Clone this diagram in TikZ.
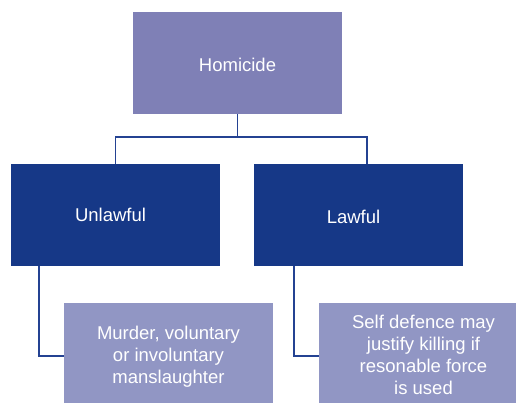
\documentclass[tikz,border=0pt]{standalone}
\usepackage{fontspec}
\setmainfont{Liberation Sans}
\definecolor{topfill}{RGB}{127,128,182}
\definecolor{midfill}{RGB}{22,56,135}
\definecolor{lowfill}{RGB}{145,150,196}
\definecolor{linkcol}{RGB}{36,66,146}
\begin{document}
\begin{tikzpicture}[x=1pt,y=-1pt,
  box/.style={rectangle, inner sep=0pt, minimum width=209pt, minimum height=102pt},
  caption/.style={text=white, align=center, inner sep=0pt, font=\fontsize{18.5}{22}\selectfont},
  link/.style={draw=linkcol, line width=1.6pt}]
\useasboundingbox (0,0) rectangle (516,403);
\clip (0,0) rectangle (516,403);
% tree of boxes
\node[box, fill=topfill,
  label={[caption, yshift=-2pt]center:Homicide}] (hom) at (237.5,63) {};
\node[box, fill=midfill,
  label={[caption, xshift=-5pt]center:Unlawful}] (unl) at (115.5,215) {};
\node[box, fill=midfill,
  label={[caption, xshift=-5pt, yshift=-2pt]center:Lawful}] (law) at (358.5,215) {};
\node[box, fill=lowfill,
  label={[caption, yshift=-3pt]center:Murder, voluntary\\or involuntary\\manslaughter}] (ex1) at (168.5,354) {};
\node[box, fill=lowfill,
  label={[caption, yshift=-1pt]center:Self defence may\\justify killing if\\resonable force\\is used}] (ex2) at (423.5,354) {};
% connectors
\coordinate (lawtop) at ([xshift=8.5pt]law.north);
\coordinate (unlfoot) at ([xshift=28pt]unl.south west);
\coordinate (lawfoot) at ([xshift=40pt]law.south west);
\draw[link] (hom.south) -- ++(0,23) coordinate (fork);
\draw[link] (unl.north) |- (fork) -| (lawtop);
\draw[link] (unlfoot) |- ([yshift=-2pt]ex1.west);
\draw[link] (lawfoot) |- ([yshift=-2pt]ex2.west);
\end{tikzpicture}
\end{document}
